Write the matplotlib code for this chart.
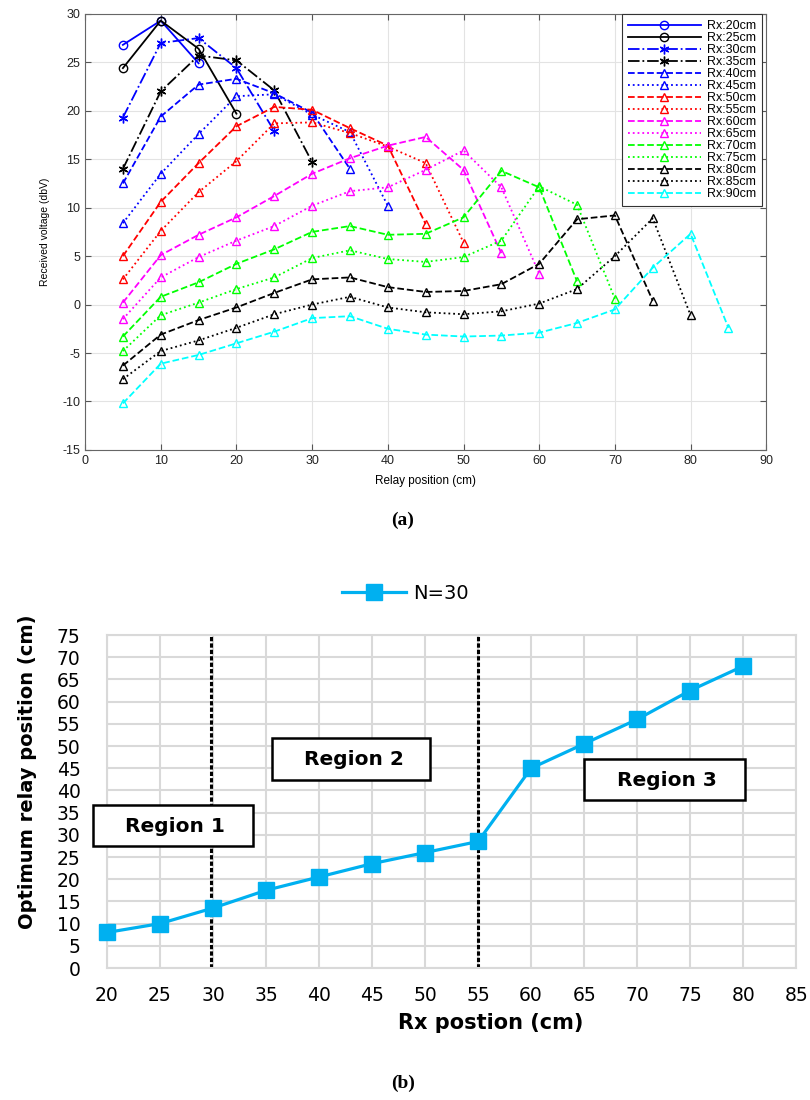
import matplotlib
matplotlib.use("Agg")
import matplotlib.pyplot as plt
from matplotlib.patches import Rectangle

plt.rcParams["axes.unicode_minus"] = False

# ---- panel (a): received voltage vs relay position ----
relay_pos = [5, 10, 15, 20, 25, 30, 35, 40, 45, 50, 55, 60, 65, 70, 75, 80, 85]

rx20 = [26.8, 29.3, 24.9]
rx25 = [24.4, 29.3, 26.4, 19.7]
rx30 = [19.3, 27.0, 27.5, 24.4, 17.9]
rx35 = [14.0, 22.0, 25.7, 25.2, 22.1, 14.7]
rx40 = [12.5, 19.4, 22.7, 23.3, 21.8, 19.8, 14.0]
rx45 = [8.4, 13.5, 17.6, 21.5, 21.7, 19.6, 17.8, 10.2]
rx50 = [5.0, 10.6, 14.6, 18.4, 20.4, 20.1, 18.2, 16.4, 8.3]
rx55 = [2.6, 7.6, 11.6, 14.8, 18.7, 18.8, 17.7, 16.3, 14.6, 6.4]
rx60 = [0.2, 5.1, 7.2, 9.0, 11.2, 13.5, 15.1, 16.4, 17.3, 13.9, 5.3]
rx65 = [-1.5, 2.8, 4.9, 6.6, 8.1, 10.2, 11.7, 12.1, 13.9, 15.9, 12.1, 3.2]
rx70 = [-3.3, 0.8, 2.3, 4.2, 5.7, 7.5, 8.1, 7.2, 7.3, 9.0, 13.8, 12.1, 2.4]
rx75 = [-4.8, -1.1, 0.2, 1.6, 2.8, 4.8, 5.6, 4.7, 4.4, 4.9, 6.6, 12.2, 10.3, 0.6]
rx80 = [-6.3, -3.1, -1.6, -0.3, 1.2, 2.6, 2.8, 1.8, 1.3, 1.4, 2.1, 4.2, 8.8, 9.2, 0.4]
rx85 = [-7.7, -4.8, -3.7, -2.4, -1.0, 0.0, 0.8, -0.3, -0.8, -1.0, -0.7, 0.1, 1.6, 5.0, 8.9, -1.1]
rx90 = [-10.2, -6.1, -5.2, -4.0, -2.8, -1.4, -1.2, -2.5, -3.1, -3.3, -3.2, -2.9, -1.9, -0.5, 3.8, 7.3, -2.4]

ASTER = (6, 2, 0)  # MATLAB-like asterisk
series_a = [
    ("Rx:20cm", rx20, "blue", "-", "o"),
    ("Rx:25cm", rx25, "black", "-", "o"),
    ("Rx:30cm", rx30, "blue", "-.", ASTER),
    ("Rx:35cm", rx35, "black", "-.", ASTER),
    ("Rx:40cm", rx40, "blue", "--", "^"),
    ("Rx:45cm", rx45, "blue", ":", "^"),
    ("Rx:50cm", rx50, "red", "--", "^"),
    ("Rx:55cm", rx55, "red", ":", "^"),
    ("Rx:60cm", rx60, "magenta", "--", "^"),
    ("Rx:65cm", rx65, "magenta", ":", "^"),
    ("Rx:70cm", rx70, "lime", "--", "^"),
    ("Rx:75cm", rx75, "lime", ":", "^"),
    ("Rx:80cm", rx80, "black", "--", "^"),
    ("Rx:85cm", rx85, "black", ":", "^"),
    ("Rx:90cm", rx90, "cyan", "--", "^"),
]

# ---- panel (b): optimum relay position vs Rx position ----
rx_pos = [20, 25, 30, 35, 40, 45, 50, 55, 60, 65, 70, 75, 80]
opt_relay = [8, 10, 13.5, 17.5, 20.5, 23.5, 26, 28.5, 45, 50.5, 56, 62.5, 68]
region_bounds = [29.8, 55]
region_labels = ["Region 1", "Region 2", "Region 3"]
# box extents (x0, x1, y0, y1) in data units, text centres
region_boxes = [(18.7, 33.8, 27.5, 36.7), (35.6, 50.5, 42.3, 51.8), (65.0, 80.2, 37.8, 47.1)]
region_xy = [(26.4, 31.9), (43.3, 46.9), (72.8, 42.3)]

fig = plt.figure(figsize=(8.1, 11), dpi=100)

# ---------------- (a) ----------------
ax1 = fig.add_axes([0.105, 0.591, 0.841, 0.3964])
for label, vals, color, ls, mk in series_a:
    ms = 7 if mk == ASTER else 6
    ax1.plot(relay_pos[:len(vals)], vals, color=color, linestyle=ls, marker=mk,
             markersize=ms, markerfacecolor="none", markeredgecolor=color,
             markeredgewidth=1.0, linewidth=1.3, label=label)

ax1.set_xlim(0, 90)
ax1.set_ylim(-15, 30)
ax1.set_xticks(range(0, 91, 10))
ax1.set_yticks(range(-15, 31, 5))
ax1.grid(True, color="#e3e3e3", linewidth=0.8)
ax1.set_axisbelow(True)
ax1.tick_params(direction="in", top=True, right=True, labelsize=9, length=4,
                color="#555555", labelcolor="#222222")
for tl in ax1.get_xticklabels() + ax1.get_yticklabels():
    tl.set_family("Liberation Sans")
for sp in ax1.spines.values():
    sp.set_color("#666666")
    sp.set_linewidth(0.8)
ax1.set_xlabel("Relay position (cm)", fontsize=8.5, family="Liberation Sans", labelpad=6)
ax1.set_ylabel("Received voltage (dbV)", fontsize=7.5, family="Liberation Sans", labelpad=9)

leg1 = ax1.legend(loc="upper right", bbox_to_anchor=(1 - 4 / 681, 1.0), borderaxespad=0,
                  prop={"family": "Liberation Sans", "size": 9},
                  handlelength=5.8, handletextpad=0.5, labelspacing=0.0, borderpad=0.5,
                  fancybox=False, framealpha=1, edgecolor="#333333")
leg1.get_frame().set_linewidth(0.8)

fig.text(0.4975, 0.527, "(a)", ha="center", va="center", fontsize=14,
         fontweight="bold", family="Liberation Serif")

# ---------------- (b) ----------------
ax2 = fig.add_axes([0.132, 0.12, 0.851, 0.3027])
ax2.plot(rx_pos, opt_relay, color="#00B0F0", linewidth=2.3, marker="s",
         markersize=11, label="N=30", zorder=3, clip_on=False)
for bx in region_bounds:
    ax2.axvline(bx, color="black", linestyle=(0, (1.4, 0.7)), linewidth=2.2, zorder=2)
for txt, (x0, x1, y0, y1), (tx, ty) in zip(region_labels, region_boxes, region_xy):
    ax2.add_patch(Rectangle((x0, y0), x1 - x0, y1 - y0, facecolor="white",
                            edgecolor="black", linewidth=1.8, zorder=4, clip_on=False))
    ax2.text(tx, ty, txt, ha="center", va="center", fontsize=14.5, fontweight="bold",
             family="DejaVu Sans", zorder=5)

ax2.set_xlim(20, 85)
ax2.set_ylim(0, 75)
ax2.set_xticks(range(20, 86, 5))
ax2.set_yticks(range(0, 76, 5))
ax2.grid(True, color="#d9d9d9", linewidth=1.5)
ax2.set_axisbelow(True)
ax2.tick_params(length=0, labelsize=13.5)
ax2.tick_params(axis="x", pad=13)
ax2.tick_params(axis="y", pad=19)
for tl in ax2.get_xticklabels() + ax2.get_yticklabels():
    tl.set_family("DejaVu Sans")
for name, sp in ax2.spines.items():
    sp.set_color("#d9d9d9")
    sp.set_linewidth(1.5)
ax2.set_xlabel("Rx postion (cm)", fontsize=15, fontweight="bold", family="DejaVu Sans")
ax2.xaxis.set_label_coords((491 - 107) / 689, -(1013 - 968) / 333)
ax2.set_ylabel("Optimum relay position (cm)", fontsize=14, fontweight="bold",
               family="Liberation Sans Narrow")
ax2.yaxis.set_label_coords((37 - 107) / 689, (968 - 772) / 333)

ax2.legend(loc="center left", bbox_to_anchor=((342 - 107) / 689, (968 - 593) / 333),
           frameon=False, borderpad=0, borderaxespad=0,
           prop={"family": "DejaVu Sans", "size": 14}, handlelength=3.3, handletextpad=0.35)

fig.text(0.4975, 0.0155, "(b)", ha="center", va="center", fontsize=14,
         fontweight="bold", family="Liberation Serif")

fig.savefig("out.png", dpi=100, facecolor="white")
